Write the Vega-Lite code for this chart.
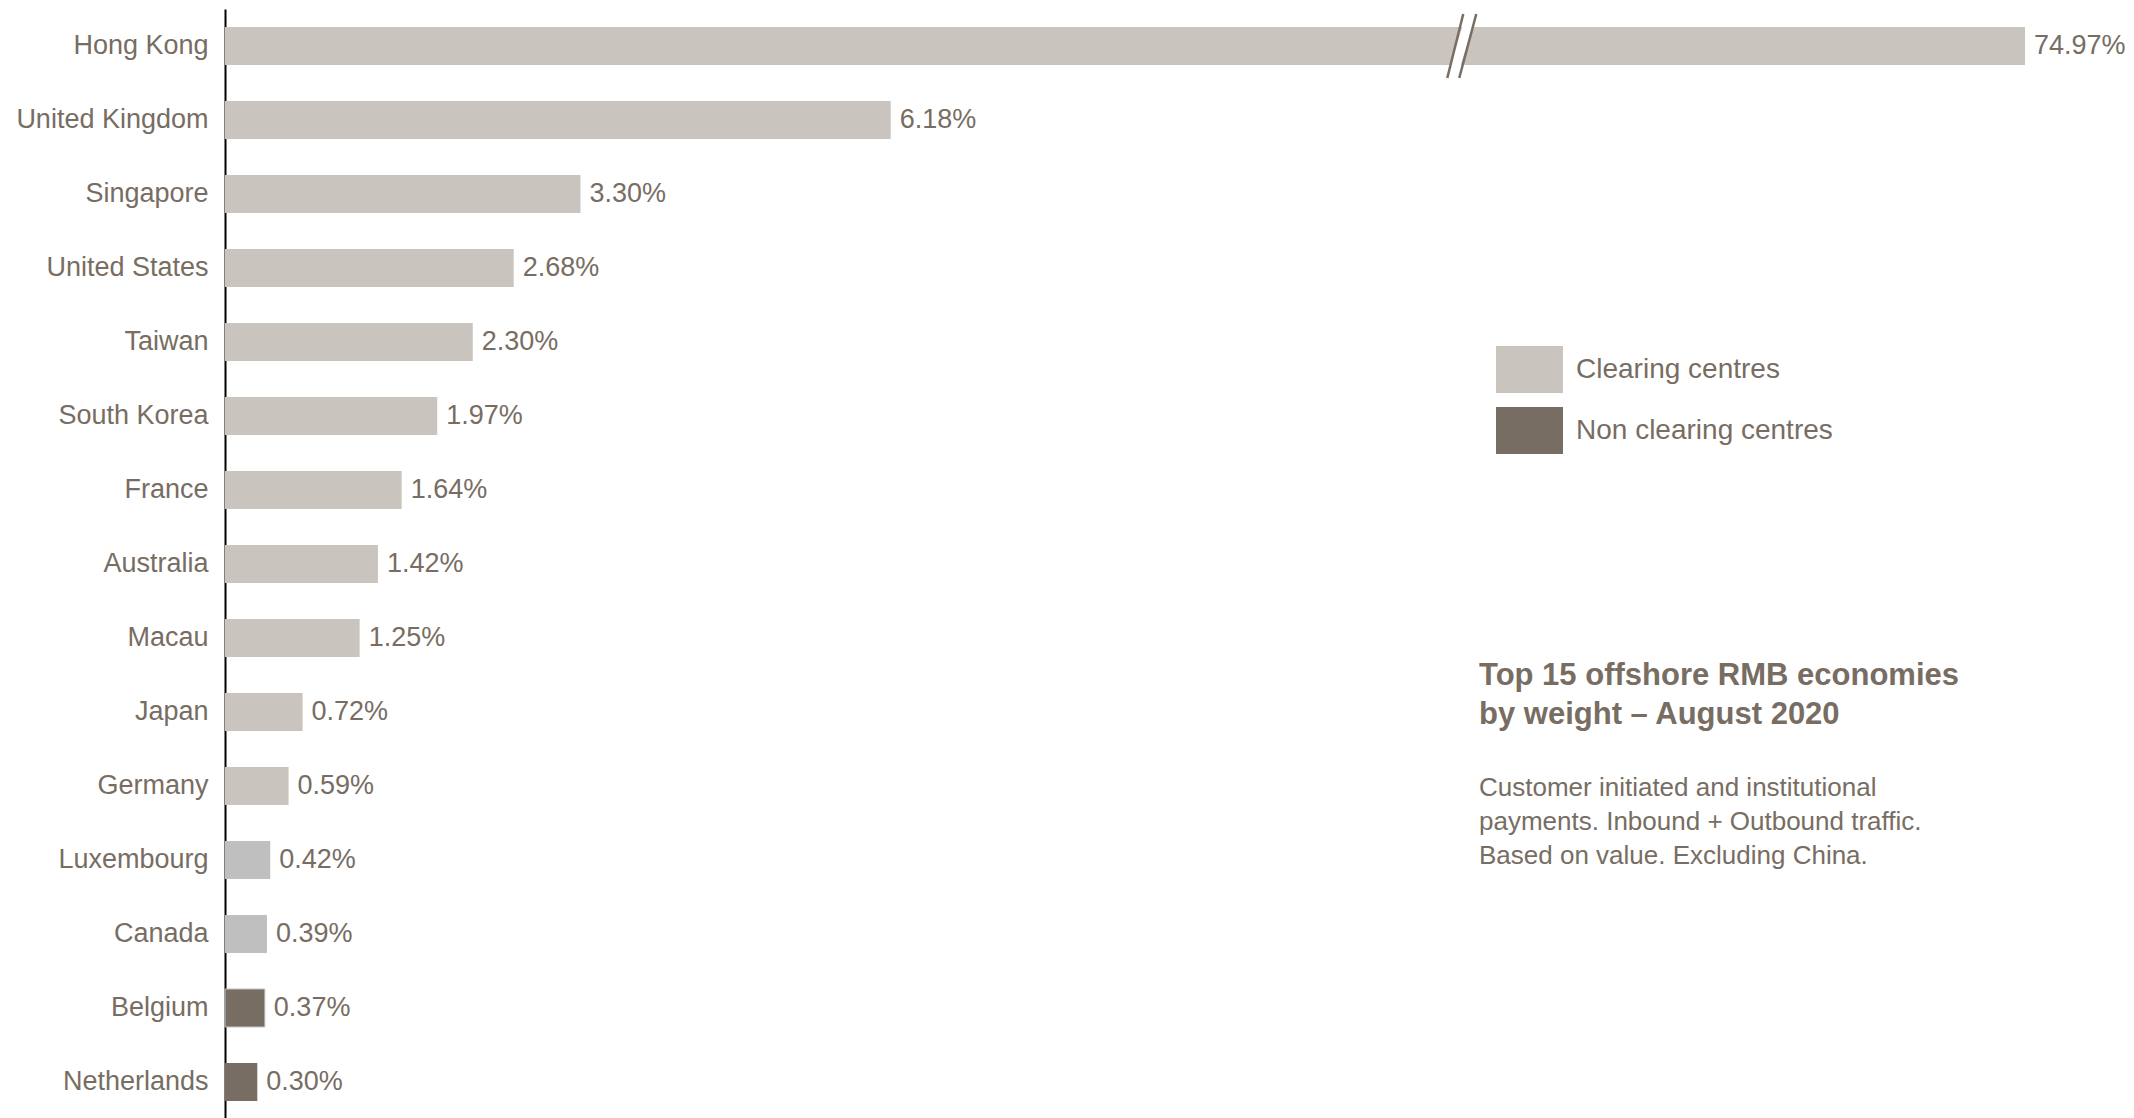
{
  "$schema": "https://vega.github.io/schema/vega-lite/v6.json",
  "width": 1800,
  "height": 1110,
  "autosize": "none",
  "padding": {"left": 225, "top": 9, "right": 109, "bottom": 0},
  "background": "white",
  "config": {
    "view": {"stroke": null},
    "font": "Liberation Sans",
    "text": {"font": "Liberation Sans"}
  },
  "title": {
    "text": ["Top 15 offshore RMB economies", "by weight – August  2020"],
    "subtitle": ["Customer initiated and institutional", "payments. Inbound + Outbound traffic.", "Based on value.  Excluding China."],
    "orient": "bottom",
    "anchor": "start",
    "frame": "group",
    "dx": 1254,
    "dy": -462,
    "font": "Liberation Sans",
    "fontSize": 31,
    "fontWeight": "bold",
    "color": "#776D63",
    "lineHeight": 39,
    "subtitleFont": "Liberation Sans",
    "subtitleFontSize": 26,
    "subtitleColor": "#776D63",
    "subtitleLineHeight": 34,
    "subtitlePadding": 44
  },
  "datasets": {
    "bars": [
      {"country": "Hong Kong", "share": 0.7497, "group": "Clearing centres"},
      {"country": "United Kingdom", "share": 0.0618, "group": "Clearing centres"},
      {"country": "Singapore", "share": 0.0330, "group": "Clearing centres"},
      {"country": "United States", "share": 0.0268, "group": "Clearing centres"},
      {"country": "Taiwan", "share": 0.0230, "group": "Clearing centres"},
      {"country": "South Korea", "share": 0.0197, "group": "Clearing centres"},
      {"country": "France", "share": 0.0164, "group": "Clearing centres"},
      {"country": "Australia", "share": 0.0142, "group": "Clearing centres"},
      {"country": "Macau", "share": 0.0125, "group": "Clearing centres"},
      {"country": "Japan", "share": 0.0072, "group": "Clearing centres"},
      {"country": "Germany", "share": 0.0059, "group": "Clearing centres"},
      {"country": "Luxembourg", "share": 0.0042, "group": "Clearing centres (grey)"},
      {"country": "Canada", "share": 0.0039, "group": "Clearing centres (grey)"},
      {"country": "Belgium", "share": 0.0037, "group": "Non clearing centres"},
      {"country": "Netherlands", "share": 0.0030, "group": "Non clearing centres"}
    ],
    "gap": [
      {"country": "Hong Kong", "top": 0.11555, "bottom": 0.11402}
    ],
    "lines": [
      {"country": "Hong Kong", "top": 0.11495, "bottom": 0.11347},
      {"country": "Hong Kong", "top": 0.11616, "bottom": 0.11458}
    ]
  },
  "encoding": {
    "y": {
      "field": "country",
      "type": "nominal",
      "sort": null,
      "scale": {"paddingInner": 0.487, "paddingOuter": 0.2435},
      "axis": {
        "title": null,
        "ticks": false,
        "labelFontSize": 27,
        "labelColor": "#776D63",
        "labelFont": "Liberation Sans",
        "labelPadding": 17,
        "labelLimit": 400,
        "domainColor": "#000000",
        "domainWidth": 2
      }
    }
  },
  "layer": [
    {
      "data": {"name": "bars"},
      "mark": {"type": "bar"},
      "encoding": {
        "x": {
          "field": "share",
          "type": "quantitative",
          "scale": {"domain": [0, 0.1671], "clamp": true, "nice": false, "zero": true},
          "axis": null
        },
        "color": {
          "field": "group",
          "type": "nominal",
          "scale": {
            "domain": ["Clearing centres", "Non clearing centres", "Clearing centres (grey)"],
            "range": ["#C9C4BD", "#776D62", "#BFBFBF"]
          },
          "legend": {
            "title": null,
            "values": ["Clearing centres", "Non clearing centres"],
            "orient": "none",
            "legendX": 1271,
            "legendY": 327,
            "symbolType": "M-1,-0.7H1V0.7H-1Z",
            "symbolSize": 4489,
            "symbolStrokeWidth": 0,
            "labelFontSize": 28,
            "labelFont": "Liberation Sans",
            "labelColor": "#776D63",
            "labelOffset": 13,
            "labelLimit": 600,
            "rowPadding": 4
          }
        },
        "stroke": {
          "condition": {"test": "datum.country === 'Belgium'", "value": "#C0C0C0"},
          "value": null
        }
      }
    },
    {
      "data": {"name": "bars"},
      "mark": {"type": "text", "align": "left", "baseline": "middle", "dx": 9, "fontSize": 27, "color": "#776D63", "font": "Liberation Sans"},
      "encoding": {
        "x": {"field": "share", "type": "quantitative"},
        "text": {"field": "share", "type": "quantitative", "format": ".2%"}
      }
    },
    {
      "data": {"name": "gap"},
      "mark": {"type": "rule", "color": "white", "strokeWidth": 10, "yOffset": -26, "y2Offset": 26},
      "encoding": {
        "x": {"field": "top", "type": "quantitative"},
        "x2": {"field": "bottom"},
        "y2": {"field": "country"}
      }
    },
    {
      "data": {"name": "lines"},
      "mark": {"type": "rule", "color": "#776D62", "strokeWidth": 2.5, "yOffset": -32, "y2Offset": 32},
      "encoding": {
        "x": {"field": "top", "type": "quantitative"},
        "x2": {"field": "bottom"},
        "y2": {"field": "country"}
      }
    }
  ]
}
